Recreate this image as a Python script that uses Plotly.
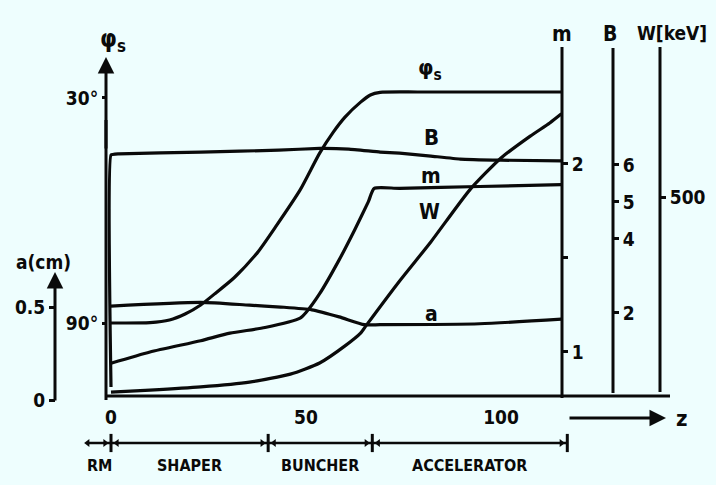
import plotly.graph_objects as go

FIG_W, FIG_H = 716, 485
INK = "#0a0a0a"
BG = "#eefefe"
FONT = "DejaVu Sans Condensed"

# ---- profiles along the structure (z in cm) ----
z_phi = [0, 10, 15, 19, 23, 26.5, 31.5, 37.5, 42.5, 48.5, 53.5, 57, 60, 64, 66.5, 69, 79, 115.5]
phi_s = [90, 89.9, 89.2, 87.6, 85.2, 82.3, 78, 71.3, 63.9, 54.5, 44.7, 39.1, 35.1, 31.1, 29.2, 28.5, 28.4, 28.4]

z_B = [0, 0, 2, 23, 43, 53.5, 61, 69, 74, 82, 89.5, 100, 115.5]
B_field = [0, 6.27, 6.3, 6.35, 6.4, 6.45, 6.43, 6.35, 6.32, 6.24, 6.16, 6.13, 6.11]

z_m = [0, 10, 23, 30.5, 39.5, 48.5, 50, 53.5, 58.5, 62.5, 66, 67.5, 74, 94.5, 115.5]
m_mod = [0.94, 1.0, 1.06, 1.1, 1.13, 1.18, 1.21, 1.31, 1.49, 1.65, 1.8, 1.87, 1.87, 1.88, 1.89]

z_a = [0, 23, 35.5, 43.5, 51.5, 58.5, 65, 69, 94.5, 115.5]
a_cm = [0.505, 0.525, 0.51, 0.5, 0.485, 0.447, 0.405, 0.405, 0.41, 0.435]

z_W = [0, 10, 23, 35.5, 46, 53.5, 60, 64, 65.5, 74, 82, 92, 100, 107.5, 112.5, 115.5]
W_keV = [10, 15, 23, 35, 55, 83, 126, 158, 178, 289, 387, 518, 598, 653, 686, 709]

section_names = ["RM", "SHAPER", "BUNCHER", "ACCELERATOR"]
section_edges = [-6, 0, 40.3, 67, 117]

z_ticks = [0, 50, 100]
phi_ticks = [30, 90]
a_ticks = [0, 0.5]
m_ticks = [1, 1.5, 2]
m_labels = ["1", "", "2"]
B_ticks = [2, 4, 5, 6]
W_ticks = [500]


def px(x):
    return x / FIG_W


def py(y):
    return 1 - y / FIG_H


line_style = dict(color=INK, width=3.2, shape="spline", smoothing=0.6)

fig = go.Figure()
fig.add_trace(go.Scatter(x=z_phi, y=phi_s, mode="lines", line=line_style, yaxis="y"))
fig.add_trace(go.Scatter(x=z_a, y=a_cm, mode="lines", line=line_style, yaxis="y2"))
fig.add_trace(go.Scatter(x=z_m, y=m_mod, mode="lines", line=line_style, yaxis="y3"))
fig.add_trace(go.Scatter(x=z_B, y=B_field, mode="lines",
                         line=dict(color=INK, width=3.2, shape="spline", smoothing=0.3), yaxis="y4"))
fig.add_trace(go.Scatter(x=z_W, y=W_keV, mode="lines", line=line_style, yaxis="y5"))

# section bar under the z axis
row = py(443)
n_b = len(section_edges) - 1
fig.add_trace(go.Scatter(x=[section_edges[0], section_edges[-1]], y=[row, row], mode="lines",
                         line=dict(color=INK, width=2.6), yaxis="y6"))
fig.add_trace(go.Scatter(x=section_edges[1:], y=[row] * n_b, mode="markers",
                         marker=dict(symbol="line-ns-open", size=13, color=INK,
                                     line=dict(color=INK, width=3)),
                         yaxis="y6"))
fig.add_trace(go.Scatter(x=[e - 1.5 for e in section_edges[1:]], y=[row] * n_b,
                         mode="markers", marker=dict(symbol="triangle-right", size=7, color=INK),
                         yaxis="y6"))
fig.add_trace(go.Scatter(x=[section_edges[0]] + [e + 1.5 for e in section_edges[1:-1]],
                         y=[row] * n_b, mode="markers",
                         marker=dict(symbol="triangle-left", size=7, color=INK), yaxis="y6"))

tick_font = dict(family=FONT, size=19, color=INK, weight="bold")


def yax(rng, pos, side, vals, text=None, **kw):
    d = dict(range=rng, anchor="free", position=pos, side=side, showgrid=False, zeroline=False,
             showline=False, ticks="outside", ticklen=5, tickwidth=3, tickcolor=INK,
             tickvals=vals, ticktext=text if text is not None else [str(v) for v in vals],
             tickfont=tick_font, domain=[0, 1])
    d.update(kw)
    return d


layout_axes = dict(
    xaxis=dict(range=[-111 / 3.9, 605 / 3.9], domain=[0, 1], anchor="free", position=py(396),
               showgrid=False, zeroline=False, showline=False, ticks="", tickvals=z_ticks,
               tickfont=tick_font, ticklabelstandoff=8),
    yaxis=yax([133.2, 3.87], px(106), "left", phi_ticks, ["30°", "90°"], ticklen=4),
    yaxis2=yax([-0.457, 2.151], px(55), "left", a_ticks, overlaying="y", ticklen=6),
    yaxis3=yax([0.2926, 2.872], px(562), "right", m_ticks, m_labels, overlaying="y"),
    yaxis4=yax([-2.649, 10.459], px(613), "right", B_ticks, overlaying="y"),
    yaxis5=yax([-223.6, 995], px(660), "right", W_ticks, overlaying="y"),
    yaxis6=dict(range=[0, 1], overlaying="y", visible=False, domain=[0, 1]),
)

shapes = []
axis_lines = [(106, 400, 106, 120), (562, 398, 562, 47), (613, 393, 613, 48), (660, 392, 660, 47),
              (106, 396, 670, 396)]
for x0, y0, x1, y1 in axis_lines:
    shapes.append(dict(type="line", xref="paper", yref="paper", x0=px(x0), y0=py(y0),
                       x1=px(x1), y1=py(y1), line=dict(color=INK, width=3)))

annotations = []


def arrow(xh, yh, xt, yt):
    annotations.append(dict(x=px(xh), y=py(yh), xref="paper", yref="paper", text="", showarrow=True,
                            ax=xt - xh, ay=yt - yh, arrowhead=2, arrowsize=1.1, arrowwidth=3,
                            arrowcolor=INK))


arrow(106, 57, 106, 150)
arrow(55, 272, 55, 402)
arrow(666, 418, 568, 418)


def label(x, y, text, size=20):
    annotations.append(dict(x=px(x), y=py(y), xref="paper", yref="paper", text=text, showarrow=False,
                            xanchor="center", yanchor="middle",
                            font=dict(family=FONT, size=size, color=INK, weight="bold")))


label(113, 40, "φ<sub>s</sub>", 24)
label(43, 262, "a(cm)", 19)
label(562, 34, "m", 21)
label(610, 34, "B", 21)
label(672, 33, "W[keV]", 19)
label(430, 70, "φ<sub>s</sub>", 22)
label(431, 137, "B", 22)
label(431, 176, "m", 21)
label(429, 212, "W", 21)
label(431, 314, "a", 21)
label(682, 418, "z", 22)

for name, lo, hi in zip(section_names, section_edges[:-1], section_edges[1:]):
    annotations.append(dict(x=(lo + hi) / 2, y=py(465), xref="x", yref="paper", text=name,
                            showarrow=False, xanchor="center", yanchor="middle",
                            font=dict(family=FONT, size=16, color=INK, weight="bold")))

fig.update_layout(
    width=FIG_W, height=FIG_H, margin=dict(l=0, r=0, t=0, b=0),
    paper_bgcolor=BG, plot_bgcolor=BG, showlegend=False,
    shapes=shapes, annotations=annotations, **layout_axes,
)

fig.write_html("out.html")
